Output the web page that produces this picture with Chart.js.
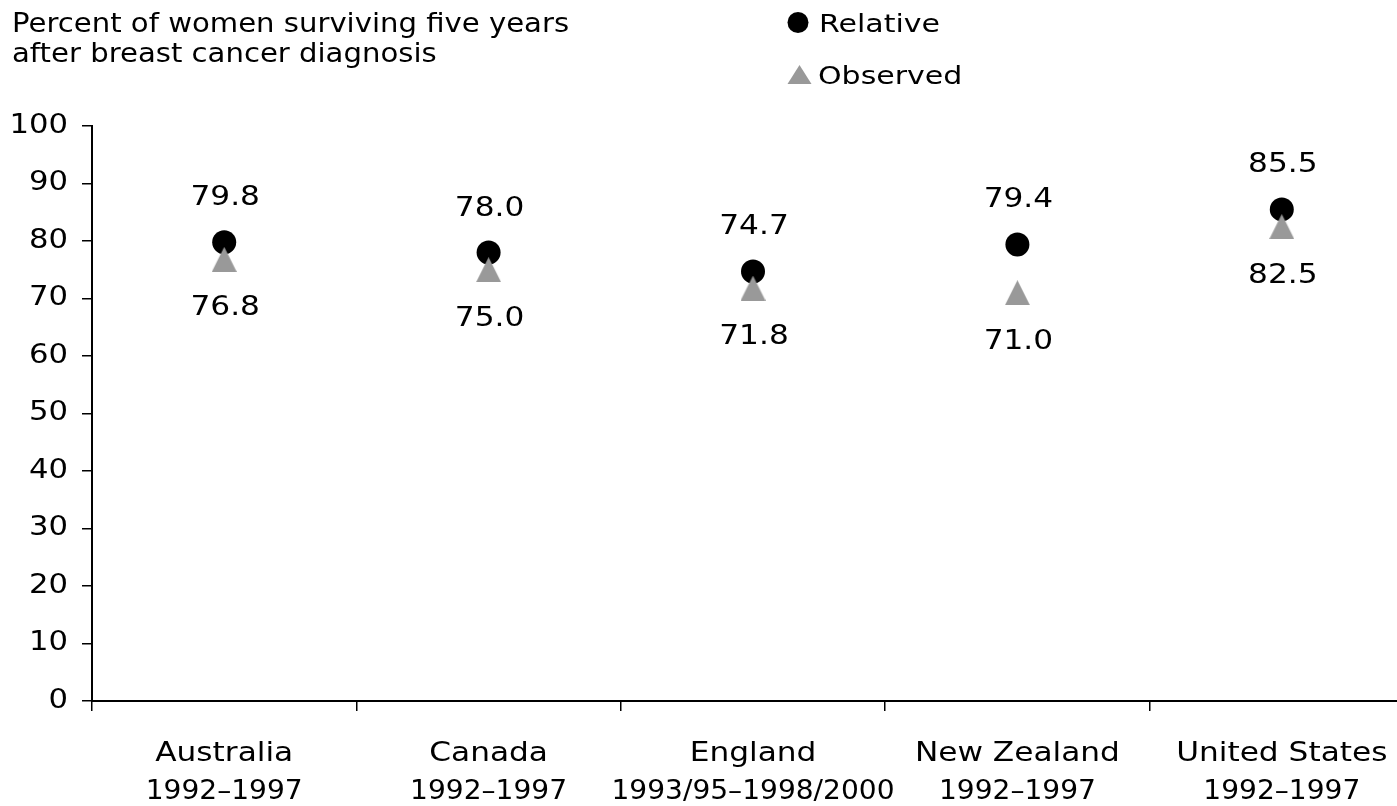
<!DOCTYPE html>
<html>
<head>
<meta charset="utf-8">
<script src="https://cdn.jsdelivr.net/npm/chart.js@4.4.1/dist/chart.umd.min.js"></script>
<style>
  html, body { margin: 0; padding: 0; background: #fff; overflow: hidden; }
  canvas { display: block; }
</style>
</head>
<body>
<canvas id="survival" width="1397" height="806"></canvas>
<script>
// Five-year breast cancer survival by country
const countries = ['Australia', 'Canada', 'England', 'New Zealand', 'United States'];
const periods = ['1992–1997', '1992–1997', '1993/95–1998/2000', '1992–1997', '1992–1997'];
const relative = [79.8, 78.0, 74.7, 79.4, 85.5];
const observed = [76.8, 75.0, 71.8, 71.0, 82.5];
const yMin = 0;
const yMax = 100;
const yStep = 10;
const titleLines = ['Percent of women surviving five years', 'after breast cancer diagnosis'];

const FONT = '"DejaVu Sans", sans-serif';
const INK = '#000';
const GREY = '#999999';

// Draw text stretched horizontally about its anchor point (an extended face).
// sx may be a number or a function of the text being drawn.
function wideText(ctx, sx, draw) {
  const fill = CanvasRenderingContext2D.prototype.fillText;
  ctx.fillText = function (text, x, y) {
    const k = typeof sx === 'function' ? sx(String(text)) : sx;
    this.save();
    this.translate(x, y);
    this.scale(k, 1);
    fill.call(this, text, 0, 0);
    this.restore();
  };
  try { draw(); } finally { delete ctx.fillText; }
}

// Isosceles triangle marker for the observed series
function triangleMark(w, h, color) {
  const c = document.createElement('canvas');
  c.width = w; c.height = h;
  const g = c.getContext('2d');
  g.fillStyle = color;
  g.beginPath();
  g.moveTo(w / 2, 0);
  g.lineTo(w, h);
  g.lineTo(0, h);
  g.closePath();
  g.fill();
  return c;
}

// The last category cell runs a little past the right edge of the canvas
const categoryOverhang = {
  id: 'categoryOverhang',
  afterLayout(chart) {
    const x = chart.scales.x;
    const right = chart.width + 17;
    x.right = right;
    x.width = right - x.left;
    chart.chartArea.right = right;
    chart.chartArea.width = right - chart.chartArea.left;
    x.configure();
  }
};

// Extended lettering for the axis tick labels (years set a little tighter)
const tickStretch = {
  x: text => (/\d/.test(text) ? 1.08 : 1.2),
  y: 1.18
};
const extendedTicks = {
  id: 'extendedTicks',
  afterLayout(chart) {
    Object.values(chart.scales).forEach(scale => {
      if (scale._extended) return;
      const base = scale.drawLabels.bind(scale);
      scale.drawLabels = function (area) {
        wideText(this.ctx, tickStretch[this.id] || 1, () => base(area));
      };
      scale._extended = true;
    });
  }
};

// Value labels: relative above its dot, observed below its triangle
const labelShift = { Relative: -47, Observed: 46 };
const valueLabels = {
  id: 'valueLabels',
  afterDatasetsDraw(chart) {
    const ctx = chart.ctx;
    ctx.save();
    ctx.font = '26px ' + FONT;
    ctx.fillStyle = INK;
    ctx.textAlign = 'center';
    ctx.textBaseline = 'alphabetic';
    const half = ctx.measureText('0').actualBoundingBoxAscent / 2;
    wideText(ctx, 1.2, () => {
      chart.data.datasets.forEach((ds, di) => {
        const meta = chart.getDatasetMeta(di);
        const shift = labelShift[ds.label];
        meta.data.forEach((pt, i) => {
          ctx.fillText(ds.data[i].toFixed(1), pt.x + 1, pt.y + shift + half);
        });
      });
    });
    ctx.restore();
  }
};

// Heading at top left and the stacked key at top centre
const heading = {
  id: 'heading',
  afterDraw(chart) {
    const ctx = chart.ctx;
    ctx.save();
    ctx.fillStyle = INK;
    ctx.textAlign = 'left';
    ctx.textBaseline = 'alphabetic';
    ctx.font = '26px ' + FONT;
    wideText(ctx, 1.12, () => {
      ctx.fillText(titleLines[0], 12, 32);
      ctx.fillText(titleLines[1], 12, 62);
    });

    // key
    ctx.fillStyle = INK;
    ctx.beginPath();
    ctx.arc(798, 22.5, 10.5, 0, Math.PI * 2);
    ctx.fill();

    ctx.fillStyle = GREY;
    ctx.beginPath();
    ctx.moveTo(799.5, 65);
    ctx.lineTo(811.5, 84);
    ctx.lineTo(787.5, 84);
    ctx.closePath();
    ctx.fill();

    ctx.fillStyle = INK;
    ctx.font = '24px ' + FONT;
    wideText(ctx, 1.25, () => {
      ctx.fillText(chart.data.datasets[0].label, 819, 32);
      ctx.fillText(chart.data.datasets[1].label, 818, 84);
    });
    ctx.restore();
  }
};

new Chart(document.getElementById('survival'), {
  type: 'line',
  data: {
    labels: countries.map((c, i) => [c, periods[i]]),
    datasets: [
      {
        label: 'Relative',
        data: relative,
        showLine: false,
        pointStyle: 'circle',
        pointRadius: 12,
        pointBackgroundColor: INK,
        pointBorderWidth: 0,
        order: 1
      },
      {
        label: 'Observed',
        data: observed,
        showLine: false,
        pointStyle: triangleMark(25, 25, GREY),
        pointRadius: 12,
        order: 0
      }
    ]
  },
  options: {
    responsive: false,
    animation: false,
    events: [],
    layout: { padding: { top: 126, left: 0, right: 0, bottom: 0 } },
    plugins: {
      legend: { display: false },
      title: { display: false },
      tooltip: { enabled: false }
    },
    scales: {
      x: {
        type: 'category',
        offset: true,
        grid: { offset: true, drawOnChartArea: false, drawTicks: true, tickLength: 10, color: INK, lineWidth: 1.5 },
        border: { display: true, color: INK, width: 2 },
        ticks: {
          color: INK,
          font: { family: FONT, size: 26, lineHeight: 1.44 },
          padding: 25,
          maxRotation: 0,
          minRotation: 0,
          autoSkip: false
        },
        afterFit: s => { s.height = 105; }
      },
      y: {
        min: yMin,
        max: yMax,
        ticks: {
          stepSize: yStep,
          color: INK,
          font: { family: FONT, size: 26 },
          padding: 14
        },
        grid: { drawOnChartArea: false, drawTicks: true, tickLength: 10, color: INK, lineWidth: 1.5 },
        border: { display: true, color: INK, width: 2 },
        afterFit: s => { s.width = 92; }
      }
    }
  },
  plugins: [categoryOverhang, extendedTicks, valueLabels, heading]
});
</script>
</body>
</html>
